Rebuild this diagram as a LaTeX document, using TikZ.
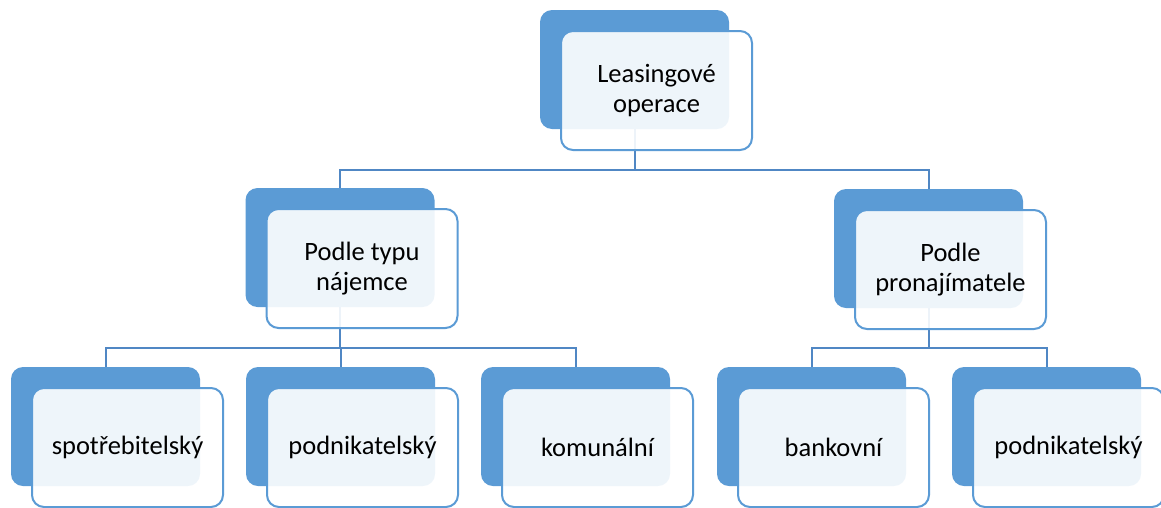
\documentclass[tikz,border=0pt]{standalone}
\usepackage{fontspec}
\setmainfont{Carlito}
\usetikzlibrary{backgrounds}
\definecolor{boxblue}{HTML}{5B9BD5}
\definecolor{lineblue}{HTML}{5087C4}
\begin{document}
\begin{tikzpicture}[x=1pt, y=-1pt,
  back/.style = {fill=boxblue, rounded corners=12pt, minimum width=189pt, minimum height=119pt, inner sep=0pt},
  front/.style = {draw=boxblue, line width=2pt, fill=white, fill opacity=0.9, text opacity=1, rounded corners=12pt,
    minimum width=191pt, minimum height=119pt, inner sep=2pt, align=center, font=\fontsize{26.5}{30}\selectfont},
  conn/.style = {draw=lineblue, line width=2pt}]
\useasboundingbox (0,0) rectangle (1161,507);
\clip (0,0) rectangle (1161,507);
% back boxes
\node[back] (topb) at (634.5,69.5) {};
\node[back] (typb) at (340,247.5) {};
\node[back] (pronb) at (928.5,248.5) {};
\node[back] (spotb) at (105.5,426.5) {};
\node[back] (podab) at (340.5,426.5) {};
\node[back] (komb) at (575.5,426.5) {};
\node[back] (bankb) at (811.5,426.5) {};
\node[back] (podbb) at (1046.5,426.5) {};
% front boxes
\node[front] (topf) at ([xshift=22pt,yshift=-21pt]topb.center) {Leasingové\\operace};
\node[front] (typf) at ([xshift=22pt,yshift=-21pt]typb.center) {Podle typu\\nájemce};
\node[front] (pronf) at ([xshift=22pt,yshift=-21pt]pronb.center) {Podle\\pronajímatele};
\node[front] (spotf) at ([xshift=22pt,yshift=-21pt]spotb.center) {spotřebitelský};
\node[front] (podaf) at ([xshift=22pt,yshift=-21pt]podab.center) {podnikatelský};
\node[front] (komf) at ([xshift=22pt,yshift=-21pt]komb.center) {komunální};
\node[front] (bankf) at ([xshift=22pt,yshift=-21pt]bankb.center) {bankovní};
\node[front] (podbf) at ([xshift=22pt,yshift=-21pt]podbb.center) {podnikatelský};
% connectors
\begin{scope}[on background layer]
\draw[conn] (topb.south) -- ++(0,41) -| (typb.north);
\draw[conn] (topb.south) -- ++(0,41) -| (pronb.north);
\draw[conn] (typb.south) -- ++(0,41) -| (spotb.north);
\draw[conn] (typb.south) -- ++(0,41) -| (podab.north);
\draw[conn] (typb.south) -- ++(0,41) -| (komb.north);
\draw[conn] (pronb.south) -- ++(0,40) -| (bankb.north);
\draw[conn] (pronb.south) -- ++(0,40) -| (podbb.north);
\end{scope}
\end{tikzpicture}
\end{document}
